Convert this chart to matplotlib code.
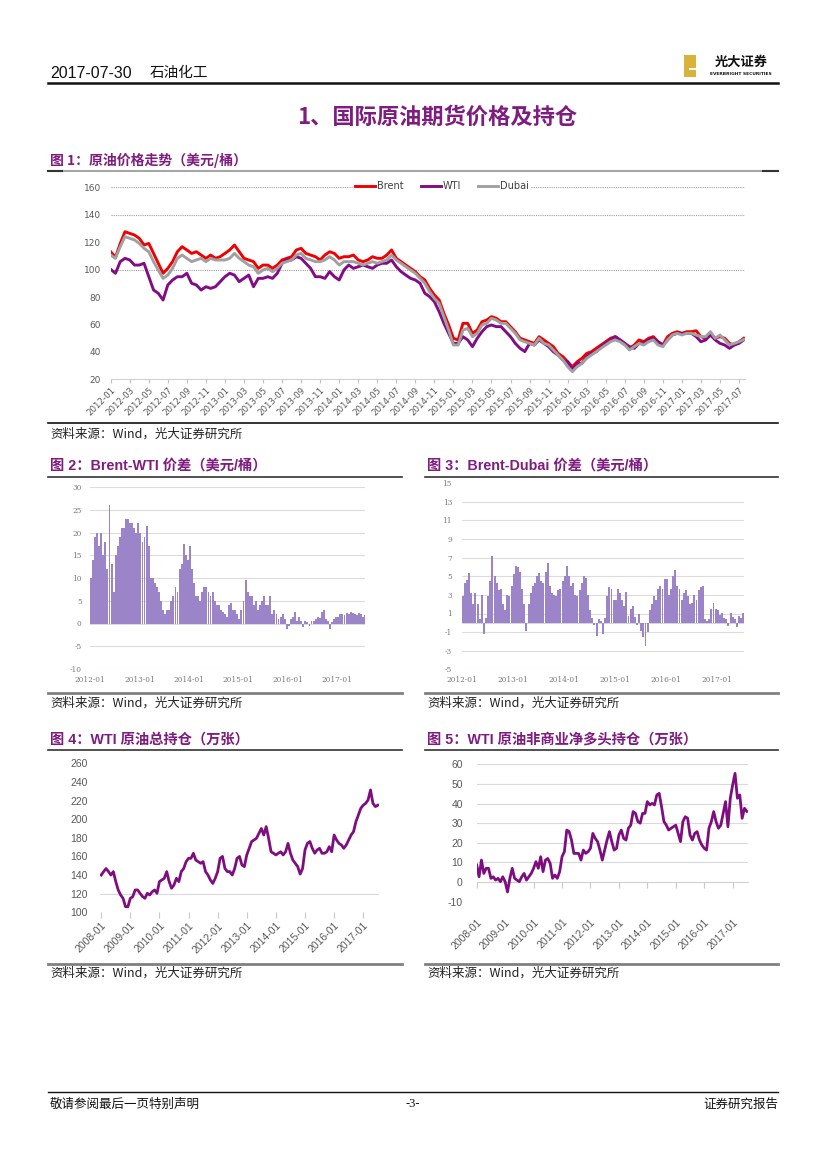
import matplotlib
matplotlib.use('Agg')
import matplotlib.pyplot as plt
import numpy as np
from matplotlib.lines import Line2D
from matplotlib.patches import Rectangle

plt.rcParams['font.family'] = ['Noto Sans CJK SC', 'DejaVu Sans']

# ---------------- data ----------------
# Figure 1: half-monthly crude prices, 2012-01 .. 2017-07 (USD/bbl)
brent = [113, 108.9, 119, 127.6, 126.4, 125.2, 122.8, 117.9, 119.1, 111.8, 104.6, 97.3,
         100.9, 105.8, 113, 116.7, 114.3, 111.8, 113, 110.6, 108.2, 110.6, 108.2, 109.4,
         111.8, 114.3, 117.9, 113, 108.2, 107, 105.8, 100.9, 103.3, 103.3, 100.9, 103.3,
         107, 108.2, 109.4, 114.3, 115.5, 111.8, 110.6, 109.4,
         107, 110.6, 113, 111.8, 108.2, 109.4, 109.4, 110.6, 107, 105.8, 107, 109.4,
         108.2, 108.2, 110.6, 114.3, 108.2, 105.8, 103.3, 100.9, 98.5, 94.8, 92.4, 86.3,
         81.5, 77.8, 68.1, 59.6, 49.9, 48.7, 60.8, 60.8, 53.5, 55.9, 62, 63.2,
         65.7, 64.5, 62, 62, 58.4, 54.7, 49.9, 48.7, 47.4, 46.2,
         51.1, 48.7, 46.2, 43.8, 38.9, 36.5, 32.8, 29.2, 32.8, 35.3, 38.9, 40.1,
         42.6, 45, 47.4, 49.9, 51.1, 48.7, 46.2, 42.6, 45, 48.7, 47.4, 49.9,
         51.1, 47.4, 45, 51.1, 53.5, 54.7, 53.5, 54.7, 54.7, 55.4, 51.1, 49.9,
         53.5, 49.9, 51.1, 49.9, 46.2, 45, 47.4, 49.9]
wti = [100.2, 97.3, 105.8, 108.2, 107, 103.3, 103.3, 104.6, 94.8, 85.1, 82.7, 77.8,
       88.8, 92.4, 94.8, 94.8, 97.3, 90, 88.8, 85.1, 87.5, 86.3, 87.5, 91.2,
       94.8, 97.3, 96, 91.2, 93.6, 96, 87.5, 93.6, 93.6, 94.8, 93.6, 97.3,
       104.6, 107, 107, 109.4, 108.2, 104.6, 100.9, 94.8,
       94.8, 93.6, 98.5, 94.8, 92.4, 99.7, 103.3, 100.9, 102.1, 103.3, 102.1, 100.9,
       103.3, 104.6, 104.6, 107, 102.1, 98.5, 96, 93.6, 92.4, 90, 82.7, 80.3,
       76.6, 69.3, 60.8, 53.5, 46.2, 46.2, 51.1, 48.7, 43.8, 49.9, 54.7, 58.4,
       59.6, 58.4, 58.4, 54.7, 51.1, 46.2, 42.6, 40.2, 46.2, 45,
       48.7, 46.2, 43.8, 40.1, 37.7, 34.1, 32.8, 26.8, 31.6, 31.6, 36.5, 38.9,
       40.1, 43.8, 46.2, 48.7, 51.1, 48.7, 46.2, 43.8, 42.6, 46.2, 46.2, 48.7,
       49.9, 47.4, 45, 48.7, 52.3, 53.5, 53.5, 53.5, 53.5, 51.1, 47.4, 48.7,
       52.3, 48.7, 46.2, 45, 42.6, 45, 46.2, 48.7]
dubai = [110.6, 108.2, 116.7, 124, 122.8, 121.6, 119.1, 115.5, 113, 105.8, 99.7, 93.6,
         96, 100.9, 108.2, 110.6, 108.2, 105.8, 107, 108.2, 105.8, 108.2, 107, 107,
         107, 108.2, 111.8, 108.2, 105.8, 103.3, 102.1, 97.3, 99.7, 100.9, 98.5, 100.9,
         104.6, 105.8, 107, 110.6, 111.8, 108.2, 107, 105.8,
         105.8, 107, 109.4, 107, 103.3, 105.8, 105.8, 105.8, 104.6, 103.3, 104.6, 105.8,
         104.6, 105.8, 107, 110.6, 107, 104.6, 102.1, 99.7, 97.3, 93.6, 90, 83.9,
         79, 75.4, 65.7, 55.9, 45, 45, 55.9, 57.1, 51.1, 53.5, 59.6, 60.8,
         64.5, 63.2, 60.8, 60.8, 57.1, 53.5, 48.7, 47.4, 46.2, 45,
         49.9, 46.2, 45, 41.4, 37.7, 34.1, 29.2, 25.6, 29.2, 31.6, 35.3, 37.7,
         40.1, 42.6, 45, 47.4, 48.7, 47.4, 45, 41.4, 43.8, 46.2, 45, 47.4,
         48.7, 45, 43.8, 48.7, 52.3, 53.5, 52.3, 53.5, 53.5, 52.3, 51.1, 51.1,
         54.7, 49.9, 52.3, 48.7, 45, 46.2, 47.4, 49]
ticks1_labels = ['2012-01', '2012-03', '2012-05', '2012-07', '2012-09', '2012-11',
                 '2013-01', '2013-03', '2013-05', '2013-07', '2013-09', '2013-11',
                 '2014-01', '2014-03', '2014-05', '2014-07', '2014-09', '2014-11',
                 '2015-01', '2015-03', '2015-05', '2015-07', '2015-09', '2015-11',
                 '2016-01', '2016-03', '2016-05', '2016-07', '2016-09', '2016-11',
                 '2017-01', '2017-03', '2017-05', '2017-07']
grid1 = [100, 140, 160]

# Figure 2: Brent-WTI spread, half-monthly, 2012-01 .. 2017-07
brent_wti = [10, 14, 19, 20, 17, 20, 15, 18, 12, 26, 13, 7, 15, 17, 19, 21, 21, 23, 23, 22, 22, 21, 20, 22,
             20, 18, 19, 21.5, 17, 10, 10, 9, 8, 7, 5, 3, 2, 3, 3, 5, 6, 8, 7, 12, 13, 17.5, 15, 14,
             17, 12, 9, 6, 6, 5, 7, 8, 8, 7, 6, 7, 5, 4, 4, 3, 2.5, 2, 1.5, 4, 4.5, 3, 3, 2,
             1, 3, 5, 9.5, 7, 6, 6, 4, 5, 3, 4, 5, 6, 4, 4, 6, 2, 3, 2, 1, 1.5, 2, 1, -1.3,
             -0.5, 1, 1.5, 2.5, 0.5, 1.5, 0.5, -0.8, 0.5, 0.3, -0.5, 0.5, 0.5, 1, 1.5, 1.2, 2.5, 3, 1, 0.5, -1.3, 0.3, 1, 1.5,
             1.5, 2, 2, 1.8, 2.2, 2, 2.5, 2.2, 2, 1.8, 2.3, 2, 1.5, 1.8]
# Figure 3: Brent-Dubai spread, half-monthly, 2012-01 .. 2017-07
brent_dubai = [2.9, 4.3, 4.6, 5.4, 3.2, 2, 3.2, 2, 0.4, 3, -1.25, 0.5, 2.9, 4.5, 7.2, 5, 4.3, 3.5, 3.6, 2, 1.4, 3, 2.9, 4,
               5.2, 6.1, 6, 5.5, 3.6, 2, -0.9, 2, 3.2, 4, 4.3, 5, 5.4, 4.5, 4.3, 5.5, 6.4, 4, 3.2, 3, 2.9, 3.5, 3.6, 4.5,
               5, 6.1, 5, 4, 4.3, 3, 2.9, 3.5, 4.3, 5, 4.8, 3, 1.4, 0.5, -0.2, -1.4, 0.4, 0.2, -1.2, 0.5, 2.9, 3.8, 3.6, 2.5,
               2.5, 3.6, 3.2, 2.5, 1.8, 3.3, 0.7, 1.5, 1.8, 0.6, -0.2, 1, -0.9, -1.5, -2.5, -1, 1.4, 2, 2.9, 2.5, 3.6, 4, 3.6, 4.7,
               4.7, 3, 3.6, 5, 5.7, 4, 3.6, 2.5, 3.2, 3.5, 2.9, 2, 2.1, 3, 2.5, 3.5, 3.9, 4, 0.4, 0.2, 0.4, 1.5, 2.1, 1.5,
               1.4, 0.8, 1.1, 0.5, 0.4, -0.3, 1.1, 0.6, 0.4, -0.4, 0.7, 0.5, 1.1, 1]
spread_labels = ['2012-01', '2013-01', '2014-01', '2015-01', '2016-01', '2017-01']

# Figure 4: WTI total open interest, monthly 2008-01 .. 2017-07 (10k contracts)
wti_oi = [140, 143.7, 147, 143.7, 140, 143.7, 133, 124, 118.6, 115, 106, 106,
          115, 116.8, 124, 124, 120.4, 117, 115, 120.4, 118.6, 122, 124, 120.4,
          133, 134.7, 136.5, 143.7, 133, 125.8, 129.4, 136.5, 133, 143.7, 147, 154.4,
          158, 158, 163.4, 156, 154.4, 152.6, 154.4, 143.7, 140, 134.7, 131, 136.5,
          143.7, 158, 160, 147, 143.7, 143.7, 140, 147, 158, 160, 150.8, 149,
          161.6, 168.7, 176, 177.7, 179.5, 184.8, 190, 183, 192, 179.5, 165, 163.4,
          161.6, 163.4, 165, 161.6, 165, 174, 163.4, 156, 152.6, 149, 141, 147,
          167, 174, 176, 168.7, 163.4, 167, 168.7, 163.4, 163.4, 165, 170.5, 165,
          183, 177.7, 174, 172.3, 168.7, 172.3, 177.7, 183, 186.6, 197.4, 204.5, 211.7,
          215, 217, 220.6, 231.4, 217, 213.5, 215]
# Figure 5: WTI non-commercial net long, monthly 2008-01 .. 2017-07 (10k contracts)
wti_net = [8.7, 2.7, 11.2, 4.4, 7, 7, 1.9, 2.7, 1, 1.9, 0.2, 2.7,
           0.2, -5, 1.9, 7, 1.9, 1, 0.2, 2.7, 4.4, 1, 2.7, 4.4,
           7, 10.4, 7, 12.9, 5.3, 11.2, 12, 9.5, 1.9, 3.6, 1.9, 5.3,
           12.9, 15.5, 26.5, 25.7, 21.4, 14.6, 14.6, 14.6, 11.2, 16.3, 14.6, 15.5,
           17.2, 24.8, 22.3, 20.6, 16.3, 11.2, 16.3, 21.4, 25.7, 20.6, 16.3, 17.2,
           24, 26.5, 22.3, 21.4, 27.4, 29, 35.9, 35, 30.8, 30, 35, 35,
           41, 39.3, 40.1, 39.3, 44.4, 45.2, 38.4, 30.8, 29, 26.5, 27.4, 28.2,
           29, 24.8, 20.6, 30.8, 33.3, 32.5, 24, 21.4, 24.8, 25.7, 21.4, 18.9,
           17.2, 16.3, 27.4, 30.8, 35.9, 30.8, 27.4, 29, 35, 41, 28.2, 42.7,
           49.5, 55.4, 42.7, 44.4, 32.5, 37.6, 36]
year_labels = ['2008-01', '2009-01', '2010-01', '2011-01', '2012-01',
               '2013-01', '2014-01', '2015-01', '2016-01', '2017-01']

# ---------------- figure ----------------
W, H = 827, 1169
fig = plt.figure(figsize=(W / 100, H / 100), dpi=100)
fig.patch.set_facecolor('white')

PURPLE = '#7E1C80'
GRAY_TXT = '#595959'


def ax_rect(l, t, r, b):
    return fig.add_axes([l / W, 1 - b / H, (r - l) / W, (b - t) / H])


def ftext(x, y, s, **kw):
    return fig.text(x / W, 1 - y / H, s, **kw)


def hline(x0, x1, y, **kw):
    fig.add_artist(Line2D([x0 / W, x1 / W], [1 - y / H, 1 - y / H], **kw))


def clean(ax):
    for s in ax.spines.values():
        s.set_visible(False)
    ax.set_facecolor('none')


# header
ftext(50, 77.5, '2017-07-30', fontsize=11.5, family=['Liberation Sans'],
      va='baseline', ha='left', color='#111111')
ftext(150, 77.5, '石油化工', fontsize=10.5, va='baseline', ha='left', color='#111111')
hline(48, 778, 82.5, color='#111111', lw=1.8)
# logo
fig.add_artist(Rectangle((684 / W, 1 - 77 / H), 12 / W, 22 / H, facecolor='#D9B23A', edgecolor='none'))
fig.add_artist(Rectangle((689 / W, 1 - 70 / H), 7 / W, 2 / H, facecolor='white', edgecolor='none'))
ftext(741, 62, '光大证券', fontsize=9.5, fontweight='bold', ha='center', va='center', color='#111111')
ftext(741, 74, 'EVERBRIGHT SECURITIES', fontsize=3.2, fontweight='bold', ha='center', va='center',
      family=['DejaVu Sans'], color='#111111')

# main title
ftext(437, 117, '1、国际原油期货价格及持仓', fontsize=16, fontweight='bold', ha='center', va='center',
      color=PURPLE)

# ---------------- Figure 1 ----------------
ftext(50, 160, '图 1：原油价格走势（美元/桶）', fontsize=10, fontweight='bold', color=PURPLE,
      va='center', ha='left')
hline(48, 778, 171, color='#a6a6a6', lw=1.5)
hline(48, 62, 171, color='#333333', lw=1.5)
hline(763, 778, 171, color='#333333', lw=1.5)

ax1 = ax_rect(110.7, 187.3, 745, 379.3)
clean(ax1)
x1 = np.arange(len(brent)) * 0.5
ax1.plot(x1, brent, color='#F00000', lw=2.1, label='Brent', zorder=3)
ax1.plot(x1, wti, color='#820C84', lw=2.1, label='WTI', zorder=3)
ax1.plot(x1, dubai, color='#A0A0A0', lw=2.1, label='Dubai', zorder=3)
ax1.set_xlim(0, 66.63)
ax1.set_ylim(20, 160)
for g in grid1:
    ax1.axhline(g, color='#a0a0a0', lw=0.8, ls=(0, (1, 1)), zorder=1)
ax1.spines['bottom'].set_visible(True)
ax1.spines['bottom'].set_color('#d0d0d0')
ax1.set_yticks(range(20, 161, 20))
ax1.set_yticklabels([str(v) for v in range(20, 161, 20)], family=['DejaVu Sans'])
ax1.set_xticks(np.arange(0, 67, 2))
ax1.set_xticklabels(ticks1_labels, rotation=45, ha='right', va='top', rotation_mode='anchor',
                    family=['DejaVu Sans'])
ax1.tick_params(axis='y', length=0, pad=7, labelsize=6.5, labelcolor=GRAY_TXT)
ax1.tick_params(axis='x', length=3, color='#c0c0c0', pad=1.5, labelsize=6.2, labelcolor=GRAY_TXT)
leg = ax1.legend(ncol=3, loc='center', bbox_to_anchor=(442 / W, 1 - 186.5 / H),
                 bbox_transform=fig.transFigure, frameon=True,
                 handlelength=2.1, handletextpad=0.2, columnspacing=1.7, borderpad=0.25,
                 prop={'family': ['DejaVu Sans'], 'size': 7})
leg.get_frame().set_facecolor('white')
leg.get_frame().set_edgecolor('none')
leg.get_frame().set_alpha(1)
for t in leg.get_texts():
    t.set_color('#404040')
hline(48, 778, 423, color='#111111', lw=1.2)
ftext(50, 434, '资料来源：Wind，光大证券研究所', fontsize=9, va='center', ha='left', color='#222222')

# ---------------- Figure 2 ----------------
ftext(50, 466, '图 2：Brent-WTI 价差（美元/桶）', fontsize=10.3, fontweight='bold', color=PURPLE,
      va='center', ha='left', family=['Liberation Sans', 'Noto Sans CJK SC'])
hline(48, 402, 477, color='#333333', lw=1.2)
ax2 = ax_rect(90, 487, 365, 669)
clean(ax2)
x2 = np.arange(len(brent_wti)) * 0.5
ax2.bar(x2, brent_wti, width=0.46, align='edge', color='#9B84C7', linewidth=0, zorder=2)
ax2.set_xlim(0, 66.7)
ax2.set_ylim(-10, 30)
yt2 = list(range(-10, 31, 5))
for g in yt2:
    ax2.axhline(g, color='#dcdcdc', lw=0.8, zorder=0)
ax2.set_yticks(yt2)
ax2.set_xticks(np.arange(0, 61, 12))
ax2.set_xticklabels(spread_labels, family=['DejaVu Serif'])
ax2.set_yticklabels([str(v) for v in yt2], family=['DejaVu Serif'])
ax2.tick_params(axis='y', length=0, pad=6, labelsize=5.3, labelcolor='#7a7a7a')
ax2.tick_params(axis='x', length=0, pad=5, labelsize=5.3, labelcolor='#7a7a7a')
hline(48, 402, 693, color='#808080', lw=2)
ftext(50, 703, '资料来源：Wind，光大证券研究所', fontsize=9, va='center', ha='left', color='#222222')

# ---------------- Figure 3 ----------------
ftext(427, 466, '图 3：Brent-Dubai 价差（美元/桶）', fontsize=10.3, fontweight='bold', color=PURPLE,
      va='center', ha='left', family=['Liberation Sans', 'Noto Sans CJK SC'])
hline(425, 778, 477, color='#333333', lw=1.2)
ax3 = ax_rect(461.7, 483.3, 744, 669.3)
clean(ax3)
x3 = np.arange(len(brent_dubai)) * 0.5
ax3.bar(x3, brent_dubai, width=0.46, align='edge', color='#9B84C7', linewidth=0, zorder=2)
ax3.set_xlim(0, 66.4)
ax3.set_ylim(-5, 15)
yt3 = list(range(-5, 16, 2))
for g in yt3[:-1]:
    ax3.axhline(g, color='#dcdcdc', lw=0.8, zorder=0)
ax3.axhline(0, color='#cfcfcf', lw=0.6, zorder=1)
ax3.set_yticks(yt3)
ax3.set_yticklabels([str(v) for v in yt3], family=['DejaVu Serif'])
ax3.set_xticks(np.arange(0, 61, 12))
ax3.set_xticklabels(spread_labels, family=['DejaVu Serif'])
ax3.tick_params(axis='y', length=0, pad=7, labelsize=5.3, labelcolor='#7a7a7a')
ax3.tick_params(axis='x', length=0, pad=5, labelsize=5.3, labelcolor='#7a7a7a')
hline(425, 778, 693, color='#808080', lw=2)
ftext(427, 703, '资料来源：Wind，光大证券研究所', fontsize=9, va='center', ha='left', color='#222222')

# ---------------- Figure 4 ----------------
ftext(50, 740, '图 4：WTI 原油总持仓（万张）', fontsize=10.3, fontweight='bold', color=PURPLE,
      va='center', ha='left', family=['Liberation Sans', 'Noto Sans CJK SC'])
hline(48, 402, 750, color='#333333', lw=1.2)
ax4 = ax_rect(100, 763.3, 379, 912.3)
clean(ax4)
x4 = np.arange(len(wti_oi))
ax4.plot(x4, wti_oi, color='#7E0E80', lw=2.0, zorder=3)
ax4.set_xlim(-0.5, 114.5)
ax4.set_ylim(100, 260)
ax4.axhline(120, color='#d9d9d9', lw=0.8, zorder=0)
yt4 = list(range(100, 261, 20))
ax4.set_yticks(yt4)
ax4.set_yticklabels([str(v) for v in yt4], family=['Liberation Sans'])
ax4.set_xticks(np.arange(0, 109, 12))
ax4.set_xticklabels(year_labels, rotation=45, ha='right', va='top', rotation_mode='anchor',
                    family=['Liberation Sans'])
ax4.tick_params(axis='y', length=0, pad=9, labelsize=7.5, labelcolor=GRAY_TXT)
ax4.tick_params(axis='x', length=4, color='#c8c8c8', pad=2, labelsize=7.5, labelcolor=GRAY_TXT)
hline(48, 402, 964, color='#808080', lw=2)
ftext(50, 973, '资料来源：Wind，光大证券研究所', fontsize=9, va='center', ha='left', color='#222222')

# ---------------- Figure 5 ----------------
ftext(427, 740, '图 5：WTI 原油非商业净多头持仓（万张）', fontsize=10.3, fontweight='bold', color=PURPLE,
      va='center', ha='left', family=['Liberation Sans', 'Noto Sans CJK SC'])
hline(425, 778, 750, color='#333333', lw=1.2)
ax5 = ax_rect(476.7, 764.3, 748.3, 901.7)
clean(ax5)
x5 = np.arange(len(wti_net))
ax5.plot(x5, wti_net, color='#7E0E80', lw=2.0, zorder=3)
ax5.set_xlim(0, 114.6)
ax5.set_ylim(-10, 60)
for g in range(10, 61, 10):
    ax5.axhline(g, color='#d9d9d9', lw=0.8, zorder=0)
yt5 = list(range(-10, 61, 10))
ax5.set_yticks(yt5)
ax5.set_yticklabels([str(v) for v in yt5], family=['Liberation Sans'])
ax5.set_xticks(np.arange(0, 109, 12))
ax5.set_xticklabels(year_labels, rotation=45, ha='right', va='top', rotation_mode='anchor',
                    family=['Liberation Sans'])
ax5.tick_params(axis='y', length=0, pad=10, labelsize=7.5, labelcolor=GRAY_TXT)
ax5.tick_params(axis='x', length=0, pad=11, labelsize=7.5, labelcolor=GRAY_TXT)
sec = ax5.secondary_xaxis(10 / 70)
sec.set_xticks(np.arange(0, 109, 12))
sec.set_xticklabels([])
sec.tick_params(length=4, color='#c8c8c8')
sec.spines['bottom'].set_color('#d0d0d0')
sec.spines['bottom'].set_linewidth(0.8)
hline(425, 778, 964, color='#808080', lw=2)
ftext(427, 973, '资料来源：Wind，光大证券研究所', fontsize=9, va='center', ha='left', color='#222222')

# ---------------- footer ----------------
hline(48, 778, 1092, color='#111111', lw=1.0)
ftext(50, 1104, '敬请参阅最后一页特别声明', fontsize=9, va='center', ha='left', color='#111111')
ftext(413, 1104, '-3-', fontsize=9, va='center', ha='center', color='#111111',
      family=['Liberation Serif'])
ftext(778, 1104, '证券研究报告', fontsize=9, va='center', ha='right', color='#111111')

fig.savefig('out.png', dpi=100, facecolor='white')
